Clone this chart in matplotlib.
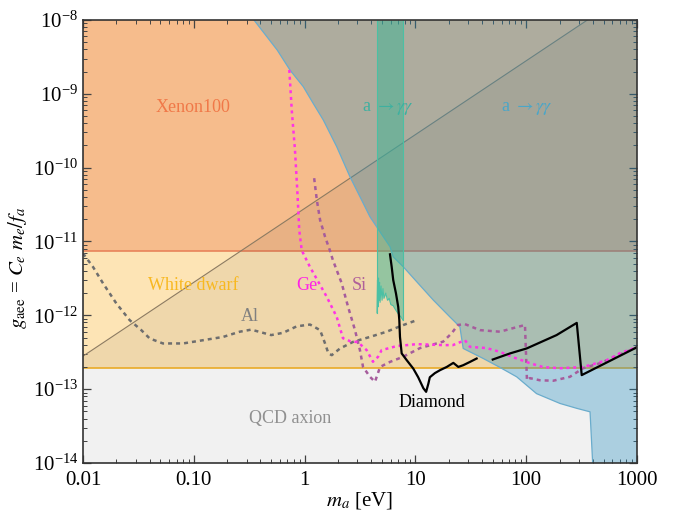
import numpy as np
import matplotlib
matplotlib.use('Agg')
import matplotlib.pyplot as plt
from matplotlib.ticker import LogLocator, FixedLocator, FixedFormatter, NullFormatter

plt.rcParams['font.family'] = 'Liberation Serif'
plt.rcParams['mathtext.fontset'] = 'stix'

# limits (eV, coupling)
xenon_limit = 7.48e-12
wd_limit = 1.93e-13

# QCD axion line (upper edge of the band)
qcd_mass = [0.01, 1000]
qcd_coupling = [2.8e-13, 2.8e-8]

# a -> gamma gamma / x-ray excluded region boundary
agg_mass = [0.349, 0.567, 0.738, 0.973, 1.197, 1.475, 1.95, 2.57, 3.16, 3.89, 5.13, 5.9,
            6.31, 7.78, 10.3, 14.5, 20.5, 25.2, 27, 41, 58, 82, 124, 202, 286, 377, 398]
agg_coupling = [1e-8, 3.9e-9, 2.1e-9, 1.25e-9, 7.4e-10, 4.42e-10, 1.92e-10, 7.5e-11, 4.04e-11,
                2.16e-11, 1.16e-11, 8.5e-12, 6.2e-12, 4.54e-12, 2.84e-12, 1.61e-12, 9.5e-13,
                7.0e-13, 3.56e-13, 2.6e-13, 1.97e-13, 1.47e-13, 8.7e-14, 6.4e-14, 5.5e-14,
                4.93e-14, 1e-14]

# narrow a -> gamma gamma band (telescope)
band_mass = [4.5, 4.55, 4.6, 4.65, 4.7, 4.75, 4.8, 4.9, 5.0, 5.1, 5.2, 5.4, 5.6, 5.8,
             6.0, 6.3, 6.6, 7.0, 7.4, 7.73]
band_coupling = [1.08e-12, 3.0e-12, 1.3e-12, 3.2e-12, 1.6e-12, 2.8e-12, 1.5e-12, 2.5e-12,
                 1.6e-12, 2.3e-12, 1.7e-12, 2.0e-12, 1.6e-12, 1.7e-12, 1.4e-12, 1.35e-12,
                 1.2e-12, 1.05e-12, 0.95e-12, 0.86e-12]

# target curves
al_mass = [0.01, 0.0123, 0.0152, 0.02, 0.0264, 0.0336, 0.04, 0.0527, 0.08, 0.121, 0.184,
           0.26, 0.33, 0.42, 0.5, 0.64, 0.85, 1.12, 1.38, 1.53, 1.64, 1.76, 2.09, 2.75,
           3.89, 5.5, 7.8, 10.3]
al_coupling = [6.9e-12, 4.54e-12, 2.7e-12, 1.45e-12, 8.6e-13, 6.3e-13, 4.86e-13, 4.16e-13,
               4.16e-13, 4.6e-13, 5.1e-13, 6.0e-13, 6.4e-13, 5.8e-13, 5.4e-13, 5.8e-13,
               7.1e-13, 7.5e-13, 6.3e-13, 4.16e-13, 3.05e-13, 2.89e-13, 3.56e-13, 4.38e-13,
               5.1e-13, 6.0e-13, 7.4e-13, 8.6e-13]

ge_mass = [0.728, 0.766, 0.819, 0.859, 0.895, 0.942, 1.12, 1.585, 1.95, 2.22, 2.57, 3.03,
           3.63, 4.14, 4.6, 4.96, 6.78, 10.3, 17.8, 21.8, 28, 31.1, 44, 58, 76, 108, 142,
           202, 326, 536, 703, 1000]
ge_coupling = [2.1e-9, 6.0e-10, 1.73e-10, 4.97e-11, 1.43e-11, 7.6e-12, 4.5e-12, 1.78e-12,
               9.5e-13, 4.9e-13, 4.47e-13, 4.33e-13, 3.38e-13, 2.35e-13, 2.74e-13, 3.38e-13,
               3.83e-13, 4.07e-13, 3.95e-13, 3.95e-13, 4.6e-13, 3.74e-13, 3.6e-13, 3.2e-13,
               2.71e-13, 2.25e-13, 1.99e-13, 1.92e-13, 1.99e-13, 2.47e-13, 3.08e-13, 3.7e-13]

si_mass = [1.22, 1.29, 1.38, 1.53, 1.69, 1.8, 2.16, 2.47, 2.85, 3.16, 3.37, 3.89, 4.32, 4.8,
           5.9, 7.73, 11.0, 17.8, 21.3, 24.2, 28, 38.3, 58, 76, 97.5, 101.6, 108, 133, 175,
           248, 326, 464, 1000]
si_coupling = [7.2e-11, 3.64e-11, 1.95e-11, 1.16e-11, 7.6e-12, 5.6e-12, 2.73e-12, 1.3e-12,
               6.3e-13, 3.37e-13, 2.0e-13, 1.47e-13, 1.26e-13, 2.0e-13, 2.34e-13, 2.74e-13,
               3.6e-13, 4.4e-13, 5.74e-13, 7.4e-13, 7.6e-13, 6.3e-13, 6.0e-13, 6.7e-13,
               7.4e-13, 1.32e-13, 1.41e-13, 1.32e-13, 1.3e-13, 1.47e-13, 1.92e-13, 2.25e-13,
               3.7e-13]

diamond_mass_1 = [5.9, 6.11, 6.31, 6.68, 7.0, 7.16, 7.26, 7.52, 8.35, 9.57, 10.6, 11.8,
                  12.5, 13.1, 13.5, 15.0, 16.7, 19.2, 22, 24.4, 27, 31.1, 35.7]
diamond_coupling_1 = [6.7e-12, 4.54e-12, 3.0e-12, 1.98e-12, 1.3e-12, 8.6e-13, 5.1e-13,
                      3.05e-13, 2.47e-13, 1.9e-13, 1.45e-13, 1.03e-13, 9.2e-14, 1.19e-13,
                      1.45e-13, 1.65e-13, 1.81e-13, 2.0e-13, 2.27e-13, 2.0e-13, 2.11e-13,
                      2.34e-13, 2.6e-13]
diamond_mass_2 = [49.9, 71.5, 101, 188, 286, 317, 1000]
diamond_coupling_2 = [2.52e-13, 3.05e-13, 3.56e-13, 5.4e-13, 7.9e-13, 1.55e-13, 3.7e-13]

xticks = [0.01, 0.1, 1, 10, 100, 1000]
xtick_labels = ['0.01', '0.10', '1', '10', '100', '1000']

fig = plt.figure(figsize=(6.73, 5.12), dpi=100)
ax = fig.add_axes([0.1233, 0.0957, 0.8232, 0.8653])
ax.set_xscale('log')
ax.set_yscale('log')
xmin, xmax = 1e-2, 1e3
ymin, ymax = 1e-14, 1e-8

# Xenon100 and white dwarf bands
ax.fill_between([xmin, xmax], xenon_limit, ymax, color='#f6bc8c', lw=0, zorder=1)
ax.axhline(xenon_limit, color='#e8835a', lw=1.2, zorder=1.5)
ax.fill_between([xmin, xmax], wd_limit, xenon_limit, color='#fde4b5', lw=0, zorder=1)
ax.axhline(wd_limit, color='#f7b52a', lw=1.2, zorder=1.5)

# QCD axion band
ax.fill_between(qcd_mass, 1e-16, qcd_coupling, color='black', alpha=0.055, lw=0, zorder=2)
ax.plot(qcd_mass, qcd_coupling, color='#8c7b62', lw=0.8, zorder=2.1)

# a -> gamma gamma region
ax.fill(agg_mass + [xmax, xmax], agg_coupling + [ymin, ymax],
        facecolor='#258fc1', alpha=0.34, lw=0, zorder=3)
ax.plot(agg_mass, agg_coupling, color='#6aaccc', lw=0.9, zorder=3.1)

# narrow band
bx = np.array(band_mass)
ax.fill_between(bx, band_coupling, ymax, color='#3cb496', alpha=0.5, lw=0, zorder=4)
ax.plot(band_mass, band_coupling, color='#4cc0a4', lw=0.8, zorder=4.1)
ax.plot([band_mass[0]] * 2, [band_coupling[0], ymax], color='#4cc0a4', lw=0.8, zorder=4.1)
ax.plot([band_mass[-1]] * 2, [band_coupling[-1], ymax], color='#4cc0a4', lw=0.8, zorder=4.1)

# projections
ax.plot(al_mass, al_coupling, color='#6e6e6e', lw=1.8, ls=(0, (1.6, 1.6)), zorder=5)
ax.plot(si_mass, si_coupling, color='#a65c9c', lw=1.8, ls=(0, (1.6, 1.6)), zorder=5)
ax.plot(ge_mass, ge_coupling, color='#ff33e6', lw=1.8, ls=(0, (1.2, 1.5)), zorder=5.2)
ax.plot(diamond_mass_1, diamond_coupling_1, color='black', lw=1.6, zorder=6)
ax.plot(diamond_mass_2, diamond_coupling_2, color='black', lw=1.6, zorder=6)

# labels
fs = 13
ax.text(0.098, 6.6e-10, 'Xenon100', color='#f07848', fontsize=fs, ha='center', va='center', zorder=7)
ax.text(5.66, 6.4e-10, r'a $\rightarrow \gamma\gamma$', color='#3eb0a0', fontsize=fs,
        ha='center', va='center', zorder=7)
ax.text(101.6, 6.4e-10, r'a $\rightarrow \gamma\gamma$', color='#4aa6c8', fontsize=fs,
        ha='center', va='center', zorder=7)
ax.text(0.098, 2.56e-12, 'White dwarf', color='#f8b820', fontsize=fs, ha='center', va='center', zorder=7)
ax.text(1.05, 2.56e-12, 'Ge', color='#ff22e6', fontsize=fs, ha='center', va='center', zorder=7)
ax.text(3.1, 2.56e-12, 'Si', color='#b0609a', fontsize=fs, ha='center', va='center', zorder=7)
ax.text(0.32, 9.5e-13, 'Al', color='#808080', fontsize=fs, ha='center', va='center', zorder=7)
ax.text(0.74, 4.0e-14, 'QCD axion', color='#909090', fontsize=fs, ha='center', va='center', zorder=7)
ax.text(14.1, 6.5e-14, 'Diamond', color='black', fontsize=fs, ha='center', va='center', zorder=7)

ax.set_xlim(xmin, xmax)
ax.set_ylim(ymin, ymax)
ax.xaxis.set_major_locator(FixedLocator(xticks))
ax.xaxis.set_major_formatter(FixedFormatter(xtick_labels))
ax.xaxis.set_minor_locator(LogLocator(base=10, subs=np.arange(2, 10), numticks=20))
ax.xaxis.set_minor_formatter(NullFormatter())
ax.yaxis.set_major_locator(LogLocator(base=10, numticks=10))
ax.yaxis.set_minor_locator(LogLocator(base=10, subs=np.arange(2, 10), numticks=20))
ax.yaxis.set_minor_formatter(NullFormatter())
ax.tick_params(which='both', direction='in', top=True, right=True, labelsize=15, color='#444444')
ax.tick_params(which='major', length=6, width=0.9)
ax.tick_params(which='minor', length=3, width=0.7)
ax.tick_params(axis='x', which='major', pad=6)
for s in ax.spines.values():
    s.set_color('#333333')
    s.set_linewidth(1.2)
    s.set_zorder(10)

ax.set_xlabel(r'$m_a$ [eV]', fontsize=15, labelpad=0)
ax.set_ylabel(r'$g_{\rm aee}$ = $C_e\ m_e/f_a$', fontsize=15)
ax.yaxis.set_label_coords(-0.097, 0.44)

fig.savefig('out.png', dpi=100)
